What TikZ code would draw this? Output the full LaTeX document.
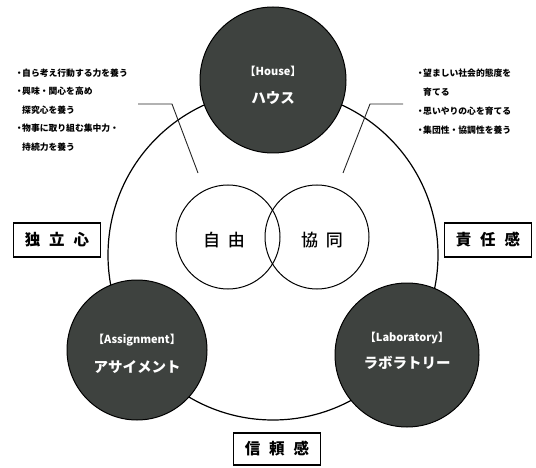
\documentclass[tikz,border=0pt]{standalone}
\usepackage{fontspec}
\setmainfont{Noto Sans CJK JP}
\newfontfamily\jpmed{Noto Sans CJK JP Medium}
\definecolor{discfill}{RGB}{62,66,63}
\newcommand{\bl}{\makebox[6pt][c]{・}}
\begin{document}
\begin{tikzpicture}[x=1pt,y=-1pt,
  disc/.style={circle, draw=black, line width=1pt, fill=discfill, inner sep=0pt},
  disctxt/.style={text=white, inner sep=0pt, font=\bfseries\fontsize{11}{11}\selectfont},
  discname/.style={text=white, inner sep=0pt, font=\bfseries\fontsize{14.5}{14.5}\selectfont},
  venn/.style={circle, draw=black, line width=1pt, minimum size=104pt, inner sep=0pt},
  venntxt/.style={inner sep=0pt, font=\jpmed\fontsize{17}{17}\selectfont},
  tag/.style={draw=black, line width=1.3pt, minimum width=87pt, minimum height=34pt, inner sep=0pt, font=\bfseries\fontsize{15.5}{15.5}\selectfont},
  conn/.style={draw=black!85, line width=0.9pt},
  note/.style={anchor=base west, inner sep=0pt, font=\bfseries\fontsize{8.8}{8.8}\selectfont}
]
\useasboundingbox (0,0) rectangle (536,468);
% outer ring
\node[circle, draw=black, line width=1.2pt, minimum size=330pt, inner sep=0pt] (ring) at (273,255) {};
% venn circles
\node[venn] (free) at (228,237) {};
\node[venn] (coop) at (317,237) {};
\node[venntxt] (freet) at (224,240) {自\hspace{8pt}由};
\node[venntxt] (coopt) at (322,240) {協\hspace{8pt}同};
% connectors
\coordinate (l0) at (138,104);
\coordinate (l1) at (172,104);
\coordinate (l2) at (198,173);
\coordinate (r0) at (403,104);
\coordinate (r1) at (370,104);
\coordinate (r2) at (343,173);
\draw[conn] (l0) -- (l1) -- (l2);
\draw[conn] (r0) -- (r1) -- (r2);
% discs
\node[disc, minimum size=146pt] (house) at (273,80) {};
\node[disc, minimum size=140pt] (assign) at (137,350) {};
\node[disc, minimum size=144pt] (lab) at (407,355) {};
\node[disctxt] (houseA) at (273,71) {【House】};
\node[discname] (houseB) at (273,98) {ハウス};
\node[disctxt] (assignA) at (137,340) {【Assignment】};
\node[discname] (assignB) at (137,367) {アサイメント};
\node[disctxt] (labA) at (407,338) {【Laboratory】};
\node[discname] (labB) at (407,363) {ラボラトリー};
% value boxes
\node[tag] (indep) at (57,240) {独\hspace{9pt}立\hspace{9pt}心};
\node[tag] (resp) at (488,240) {責\hspace{9pt}任\hspace{9pt}感};
\node[tag, minimum height=32pt] (trust) at (277,449) {信\hspace{9pt}頼\hspace{9pt}感};
% notes left
\node[note] (nl1) at (16,76.5) {\bl 自ら考え行動する力を養う};
\node[note] (nl2) at (16,95) {\bl 興味・関心を高め};
\node[note] (nl3) at (16,113.5) {\hspace{6pt}探究心を養う};
\node[note] (nl4) at (16,132) {\bl 物事に取り組む集中力・};
\node[note] (nl5) at (16,150.5) {\hspace{6pt}持続力を養う};
% notes right
\node[note] (nr1) at (417,76.5) {\bl 望ましい社会的態度を};
\node[note] (nr2) at (417,95.5) {\hspace{6pt}育てる};
\node[note] (nr3) at (417,115) {\bl 思いやりの心を育てる};
\node[note] (nr4) at (417,133.5) {\bl 集団性・協調性を養う};
\end{tikzpicture}
\end{document}
